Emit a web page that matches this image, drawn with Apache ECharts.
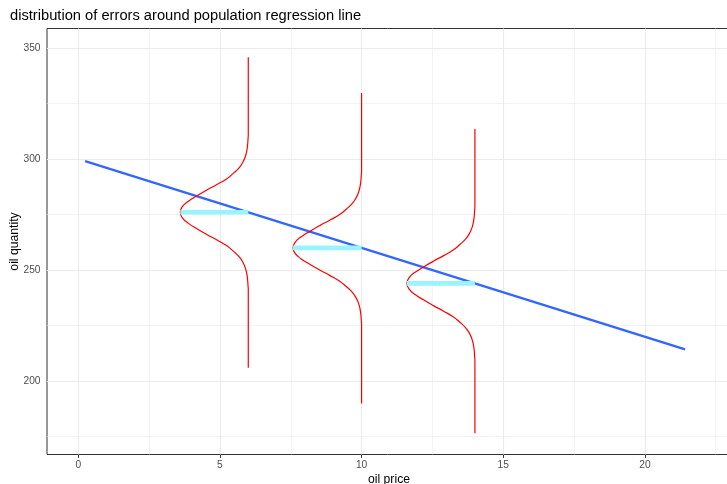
<!DOCTYPE html>
<html>
<head>
<meta charset="utf-8">
<script src="https://cdn.jsdelivr.net/npm/echarts@6/dist/echarts.min.js"></script>
<style>
html,body{margin:0;padding:0;background:#fff;}
#c{width:727px;height:484px;}
</style>
</head>
<body>
<div id="c"></div>
<script>
// ---- data ----
const titleText = 'distribution of errors around population regression line';
const xName = 'oil price';
const yName = 'oil quantity';
const xTicks = [0, 5, 10, 15, 20];
const xMinor = [2.5, 7.5, 12.5, 17.5, 22.5];
const yTicks = [200, 250, 300, 350];
const yMinor = [175, 225, 275, 325];
// regression line end points
const lineX = [0.24, 21.42];
const lineY = [299.0, 214.3];
// error distributions
const curveX = [6, 10, 14];
const curveMean = [276, 260, 244];
const curveTop = [345.8, 329.7, 313.5];
const curveBottom = [206.0, 190.0, 176.6];
const curveDepth = [2.4, 2.42, 2.4];
// half-profile of the curves: vertical offset -> fraction of the peak depth
const profileDy = [0, 2.5, 5, 7.5, 10, 12.5, 15, 17.5, 20, 22.5, 25, 27.5, 30, 32.5, 35];
const profileFrac = [1, 0.97, 0.88, 0.75, 0.61, 0.46, 0.32, 0.22, 0.135, 0.08, 0.044, 0.023, 0.011, 0.005, 0];

const FONT = '"Liberation Sans", Arial, Helvetica, sans-serif';

function curveData(i) {
  const cx = curveX[i], m = curveMean[i], d = curveDepth[i];
  const pts = [[cx, curveBottom[i]]];
  for (let k = profileDy.length - 1; k >= 1; k--) pts.push([cx - d * profileFrac[k], m - profileDy[k]]);
  for (let k = 0; k < profileDy.length; k++) pts.push([cx - d * profileFrac[k], m + profileDy[k]]);
  pts.push([cx, curveTop[i]]);
  return pts;
}

const gridLines = [];
xMinor.forEach(v => gridLines.push({xAxis: v, lineStyle: {width: 0.6}}));
yMinor.forEach(v => gridLines.push({yAxis: v, lineStyle: {width: 0.6}}));
xTicks.forEach(v => gridLines.push({xAxis: v, lineStyle: {width: 1.1}}));
yTicks.forEach(v => gridLines.push({yAxis: v, lineStyle: {width: 1.1}}));

const series = [{
  type: 'line', data: [], z: 1, silent: true,
  markLine: {
    z: 1, silent: true, symbol: ['none', 'none'], label: {show: false}, animation: false,
    lineStyle: {color: '#EBEBEB', type: 'solid'},
    emphasis: {disabled: true},
    data: gridLines
  }
}, {
  type: 'line', z: 3, symbol: 'none', animation: false,
  data: lineX.map((x, i) => [x, lineY[i]]),
  lineStyle: {color: '#3366FF', width: 2.4}
}];
curveX.forEach((cx, i) => {
  series.push({
    type: 'line', z: 4, symbol: 'none', animation: false,
    data: curveData(i), smooth: 0.5,
    lineStyle: {color: '#FF0000', width: 1.2}
  });
});
curveX.forEach((cx, i) => {
  series.push({
    type: 'line', z: 5, symbol: 'none', animation: false,
    data: [[cx - curveDepth[i], curveMean[i]], [cx, curveMean[i]]],
    lineStyle: {color: '#98F5FF', width: 4.6, cap: 'butt'}
  });
});

const chart = echarts.init(document.getElementById('c'), null, {renderer: 'canvas'});
chart.setOption({
  animation: false,
  backgroundColor: '#ffffff',
  title: {
    text: titleText, left: 5, top: 3,
    textStyle: {fontFamily: FONT, fontSize: 14.7, fontWeight: 'normal', color: '#000'}
  },
  grid: {left: 47, right: -4, top: 28.5, bottom: 29.5, outerBoundsMode: 'none', containLabel: false,
         show: true, borderColor: '#333333', borderWidth: 1, backgroundColor: 'transparent'},
  xAxis: {
    type: 'value', min: -1.105, max: 23.04,
    name: xName, nameLocation: 'middle', nameGap: 19, nameMoveOverlap: false,
    nameTextStyle: {fontFamily: FONT, fontSize: 12.2, color: '#000'},
    axisLine: {show: false},
    axisTick: {show: true, length: 3.4, customValues: xTicks, lineStyle: {color: '#333333', width: 1}},
    axisLabel: {customValues: xTicks, margin: 6, fontFamily: FONT, fontSize: 10.2, color: '#4D4D4D'},
    splitLine: {show: false}
  },
  yAxis: {
    type: 'value', min: 167.0, max: 358.7,
    name: yName, nameLocation: 'middle', nameGap: 26, nameMoveOverlap: false,
    nameTextStyle: {fontFamily: FONT, fontSize: 12.2, color: '#000'},
    axisLine: {show: false},
    axisTick: {show: true, length: 3.4, customValues: yTicks, lineStyle: {color: '#333333', width: 1}},
    axisLabel: {customValues: yTicks, margin: 6.5, fontFamily: FONT, fontSize: 10.2, color: '#4D4D4D'},
    splitLine: {show: false}
  },
  series: series
});
</script>
</body>
</html>
